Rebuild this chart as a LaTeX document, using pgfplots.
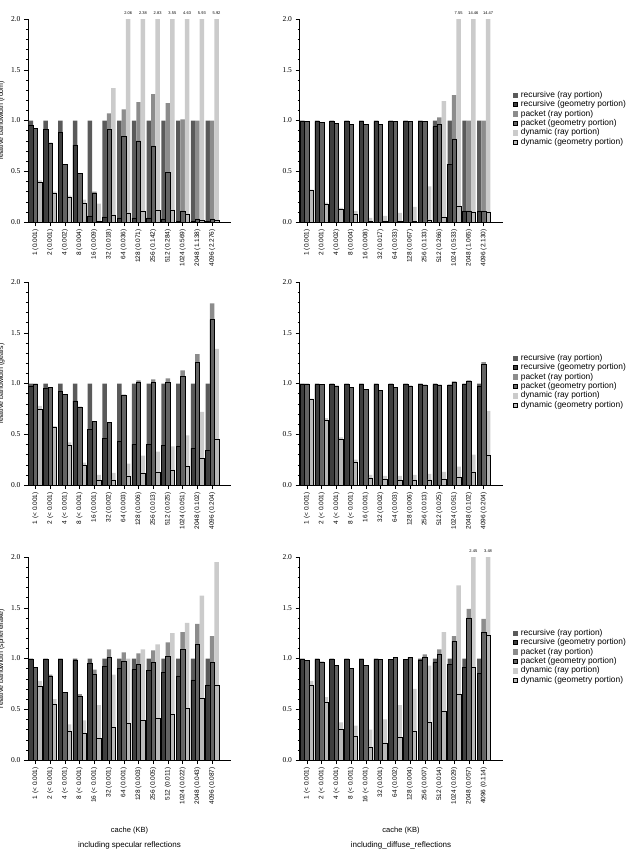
\documentclass[border=0pt]{standalone}
\usepackage{pgfplots}
\pgfplotsset{compat=1.18}
\usepackage{pgfplotstable}
\usepackage{fontspec}
\setmainfont{Liberation Sans}
\newfontfamily\seriffont{Liberation Serif}
\definecolor{recray}{HTML}{5A5A5A}
\definecolor{recgeo}{HTML}{3E3E3E}
\definecolor{pray}{HTML}{8C8C8C}
\definecolor{pgeo}{HTML}{646464}
\definecolor{dray}{HTML}{CBCBCB}
\definecolor{dgeo}{HTML}{B9B9B9}

% columns: x, recursive total, recursive geometry, packet total, packet geometry, dynamic total, dynamic geometry
\pgfplotstableread{
x rr rg pr pg dr dg
0 1.00 0.95 0.92 0.92 0.41 0.39
1 1.00 0.91 0.78 0.78 0.30 0.28
2 1.00 0.88 0.57 0.57 0.26 0.24
3 1.00 0.76 0.48 0.48 0.22 0.18
4 1.00 0.06 0.30 0.28 0.18 0.01
5 1.00 0.05 1.07 0.91 1.32 0.07
6 1.00 0.04 1.11 0.84 2.06 0.09
7 1.00 0.04 1.18 0.80 2.38 0.11
8 1.00 0.04 1.26 0.75 2.83 0.12
9 1.00 0.03 1.17 0.49 3.55 0.12
10 1.00 0.01 1.01 0.11 4.63 0.08
11 1.00 0.01 1.00 0.03 5.93 0.02
12 1.00 0.01 1.00 0.03 5.92 0.02
}\tabA
\pgfplotstableread{
x rr rg pr pg dr dg
0 1.00 0.99 0.99 0.99 0.32 0.31
1 1.00 0.99 0.98 0.98 0.19 0.17
2 1.00 0.99 0.97 0.97 0.14 0.13
3 1.00 0.99 0.96 0.96 0.11 0.08
4 1.00 0.99 0.96 0.96 0.04 0.01
5 1.00 0.99 0.96 0.96 0.06 0.01
6 1.00 0.99 0.99 0.99 0.09 0.01
7 1.00 0.99 0.99 0.99 0.15 0.01
8 1.00 0.99 0.99 0.99 0.35 0.02
9 1.00 0.94 1.03 0.96 1.19 0.05
10 1.00 0.57 1.25 0.82 7.55 0.16
11 1.00 0.11 1.00 0.11 14.46 0.10
12 1.00 0.11 1.00 0.11 14.47 0.10
}\tabB
\pgfplotstableread{
x rr rg pr pg dr dg
0 1.00 0.97 1.00 0.99 0.78 0.75
1 1.00 0.95 0.96 0.96 0.58 0.57
2 1.00 0.92 0.89 0.89 0.42 0.39
3 1.00 0.83 0.77 0.77 0.22 0.19
4 1.00 0.55 0.63 0.63 0.10 0.05
5 1.00 0.46 0.62 0.62 0.12 0.05
6 1.00 0.43 0.89 0.88 0.21 0.09
7 1.00 0.40 1.03 1.01 0.29 0.12
8 1.00 0.40 1.04 1.01 0.33 0.13
9 1.00 0.39 1.05 1.01 0.38 0.15
10 1.00 0.38 1.13 1.07 0.49 0.18
11 1.00 0.36 1.29 1.21 0.72 0.26
12 1.00 0.34 1.79 1.63 1.34 0.45
}\tabC
\pgfplotstableread{
x rr rg pr pg dr dg
0 1.00 0.99 1.00 0.99 0.85 0.84
1 1.00 0.99 0.99 0.99 0.66 0.64
2 1.00 0.99 0.98 0.97 0.47 0.45
3 1.00 0.99 0.96 0.96 0.25 0.22
4 1.00 0.99 0.94 0.94 0.10 0.07
5 1.00 0.99 0.93 0.93 0.09 0.06
6 1.00 0.99 0.96 0.96 0.09 0.05
7 1.00 0.99 0.98 0.97 0.10 0.05
8 1.00 0.99 0.99 0.98 0.11 0.05
9 1.00 0.99 0.99 0.98 0.13 0.06
10 0.99 0.98 1.02 1.01 0.18 0.08
11 1.00 0.99 1.03 1.02 0.30 0.13
12 1.00 0.97 1.21 1.19 0.73 0.29
}\tabD
\pgfplotstableread{
x rr rg pr pg dr dg
0 1.00 0.99 0.91 0.91 0.78 0.73
1 1.00 0.99 0.84 0.83 0.60 0.55
2 1.00 0.99 0.67 0.67 0.35 0.28
3 1.00 0.98 0.65 0.63 0.39 0.26
4 1.00 0.95 0.89 0.84 0.54 0.21
5 1.00 0.92 1.09 1.01 0.84 0.32
6 1.00 0.90 1.06 0.97 1.00 0.36
7 1.00 0.89 1.05 0.94 1.09 0.39
8 1.00 0.88 1.08 0.96 1.14 0.41
9 1.00 0.86 1.16 1.02 1.25 0.45
10 1.00 0.83 1.26 1.09 1.35 0.51
11 1.00 0.79 1.34 1.14 1.62 0.61
12 1.00 0.74 1.22 0.96 1.95 0.74
}\tabE
\pgfplotstableread{
x rr rg pr pg dr dg
0 1.00 0.99 0.98 0.98 0.78 0.74
1 1.00 0.99 0.97 0.96 0.62 0.57
2 1.00 0.99 0.93 0.93 0.37 0.30
3 1.00 0.99 0.90 0.90 0.34 0.23
4 1.00 0.99 0.93 0.93 0.30 0.13
5 1.00 0.99 0.99 0.99 0.40 0.17
6 0.99 0.99 1.01 1.01 0.54 0.22
7 0.99 0.99 1.01 1.01 0.70 0.28
8 1.00 0.98 1.04 1.01 0.93 0.37
9 1.00 0.96 1.09 1.04 1.26 0.48
10 1.00 0.94 1.22 1.17 1.72 0.65
11 1.00 0.91 1.49 1.40 2.45 0.91
12 1.00 0.85 1.39 1.26 3.48 1.23
}\tabF

\pgfplotsset{
  panel/.style={
    scale only axis, width=203pt, height=203pt, anchor=south west,
    xmin=-0.5, xmax=13.28, ymin=0, ymax=2,
    axis x line*=bottom, axis y line*=left,
    axis line style={-, line width=0.5pt},
    xtick={0,...,12}, ytick={0,0.5,1,1.5,2},
    yticklabels={0.0,0.5,1.0,1.5,2.0},
    minor y tick num=4, tick align=outside,
    major tick length=4pt, minor tick length=2pt,
    tick style={black, line width=0.4pt},
    yticklabel style={font=\seriffont\fontsize{7.5}{8}\selectfont},
    xticklabel style={rotate=90, anchor=east, font=\fontsize{6.5}{7}\selectfont},
    clip mode=individual,
  },
  leg/.style={
    legend style={at={(1.05,0.648)}, anchor=north west, draw=none, fill=none,
      font=\fontsize{8.4}{10}\selectfont, row sep=0.6pt, inner sep=0pt,
      nodes={inner sep=0.6pt},
      /tikz/every odd column/.append style={column sep=2.5pt}},
    legend cell align=left,
    legend image code/.code={\draw[line width=0.5pt, ##1] (0pt,-2.2pt) rectangle (4.4pt,2.2pt);},
  },
}

\newcommand{\bars}[1]{%
  \addplot[ybar, forget plot, bar width=0.3, bar shift=-0.3, fill=recray, draw=none] table[x=x,y=rr]{#1};
  \addplot[ybar, forget plot, bar width=0.3, bar shift=0, fill=pray, draw=none] table[x=x,y=pr]{#1};
  \addplot[ybar, forget plot, bar width=0.3, bar shift=0.3, fill=dray, draw=none] table[x=x,y=dr]{#1};
  \addplot[ybar, forget plot, bar width=0.3, bar shift=-0.3, fill=recgeo, draw=black, line width=0.5pt] table[x=x,y=rg]{#1};
  \addplot[ybar, forget plot, bar width=0.3, bar shift=0, fill=pgeo, draw=black, line width=0.5pt] table[x=x,y=pg]{#1};
  \addplot[ybar, forget plot, bar width=0.3, bar shift=0.3, fill=dgeo, draw=black, line width=0.5pt] table[x=x,y=dg]{#1};
}
\newcommand{\legentries}{%
  \addlegendimage{draw=recray, fill=recray}\addlegendentry{recursive (ray portion)}
  \addlegendimage{draw=black, fill=recgeo}\addlegendentry{recursive (geometry portion)}
  \addlegendimage{draw=pray, fill=pray}\addlegendentry{packet (ray portion)}
  \addlegendimage{draw=black, fill=pgeo}\addlegendentry{packet (geometry portion)}
  \addlegendimage{draw=dray, fill=dray}\addlegendentry{dynamic (ray portion)}
  \addlegendimage{draw=black, fill=dgeo}\addlegendentry{dynamic (geometry portion)}
}
\tikzset{toplab/.style={font=\fontsize{4}{4}\selectfont, anchor=south, inner sep=0pt, yshift=4.5pt}}

\begin{document}
\begin{tikzpicture}
% row 1 left
\begin{axis}[panel, at={(28pt,-222pt)},
  xticklabels={1 (0.001),2 (0.001),4 (0.002),8 (0.004),16 (0.009),32 (0.018),64 (0.036),128 (0.071),256 (0.142),512 (0.284),1024 (0.569),2048 (1.138),4096 (2.276)}]
\bars{\tabA}
\node[toplab] at (axis cs:6.3,2) {2.06};
\node[toplab] at (axis cs:7.3,2) {2.38};
\node[toplab] at (axis cs:8.3,2) {2.83};
\node[toplab] at (axis cs:9.3,2) {3.55};
\node[toplab] at (axis cs:10.3,2) {4.63};
\node[toplab] at (axis cs:11.3,2) {5.93};
\node[toplab] at (axis cs:12.3,2) {5.92};
\end{axis}
% row 1 right
\begin{axis}[panel, leg, at={(299.5pt,-222pt)},
  xticklabels={1 (0.001),2 (0.001),4 (0.002),8 (0.004),16 (0.008),32 (0.017),64 (0.033),128 (0.067),256 (0.133),512 (0.266),1024 (0.533),2048 (1.065),4096 (2.130)}]
\legentries
\bars{\tabB}
\node[toplab] at (axis cs:10.3,2) {7.55};
\node[toplab] at (axis cs:11.3,2) {14.46};
\node[toplab] at (axis cs:12.3,2) {14.47};
\end{axis}
% row 2 left
\begin{axis}[panel, at={(28pt,-485pt)},
  xticklabels={1 (< 0.001),2 (< 0.001),4 (< 0.001),8 (< 0.001),16 (0.001),32 (0.002),64 (0.003),128 (0.006),256 (0.013),512 (0.025),1024 (0.051),2048 (0.102),4096 (0.204)}]
\bars{\tabC}
\end{axis}
% row 2 right
\begin{axis}[panel, leg, at={(299.5pt,-485pt)},
  xticklabels={1 (< 0.001),2 (< 0.001),4 (< 0.001),8 (< 0.001),16 (0.001),32 (0.002),64 (0.003),128 (0.006),256 (0.013),512 (0.025),1024 (0.051),2048 (0.102),4096 (0.204)}]
\legentries
\bars{\tabD}
\end{axis}
% row 3 left
\begin{axis}[panel, at={(28pt,-760pt)},
  xticklabels={1 (< 0.001),2 (< 0.001),4 (< 0.001),8 (< 0.001),16 (< 0.001),32 (0.001),64 (0.001),128 (0.003),256 (0.005),512 (0.011),1024 (0.022),2048 (0.043),4096 (0.087)}]
\bars{\tabE}
\end{axis}
% row 3 right
\begin{axis}[panel, leg, at={(299.5pt,-760pt)},
  xticklabels={1 (< 0.001),2 (< 0.001),4 (< 0.001),8 (< 0.001),16 (< 0.001),32 (0.001),64 (0.002),128 (0.004),256 (0.007),512 (0.014),1024 (0.029),2048 (0.057),4096 (0.114)}]
\legentries
\bars{\tabF}
\node[toplab] at (axis cs:11.3,2) {2.45};
\node[toplab] at (axis cs:12.3,2) {3.48};
\end{axis}
% y labels (cut at the left edge as in the reference)
\node[rotate=90, anchor=base, font=\fontsize{7}{8}\selectfont] at (3pt,-120.5pt) {relative bandwidth (room)};
\node[rotate=90, anchor=base, font=\fontsize{7}{8}\selectfont] at (3pt,-383.5pt) {relative bandwidth (gears)};
\node[rotate=90, anchor=base, font=\fontsize{7}{8}\selectfont] at (3pt,-658.5pt) {relative bandwidth (sphereflake)};
% bottom labels
\node[font=\fontsize{7.5}{9}\selectfont] at (129.5pt,-831pt) {cache (KB)};
\node[font=\fontsize{8}{9}\selectfont] at (129.5pt,-845pt) {including specular reflections};
\node[font=\fontsize{7.5}{9}\selectfont] at (401pt,-831pt) {cache (KB)};
\node[font=\fontsize{8}{9}\selectfont] at (401pt,-845pt) {including\_diffuse\_reflections};
\pgfresetboundingbox
\useasboundingbox (0pt,0pt) rectangle (629pt,-854pt);
\end{tikzpicture}
\end{document}
